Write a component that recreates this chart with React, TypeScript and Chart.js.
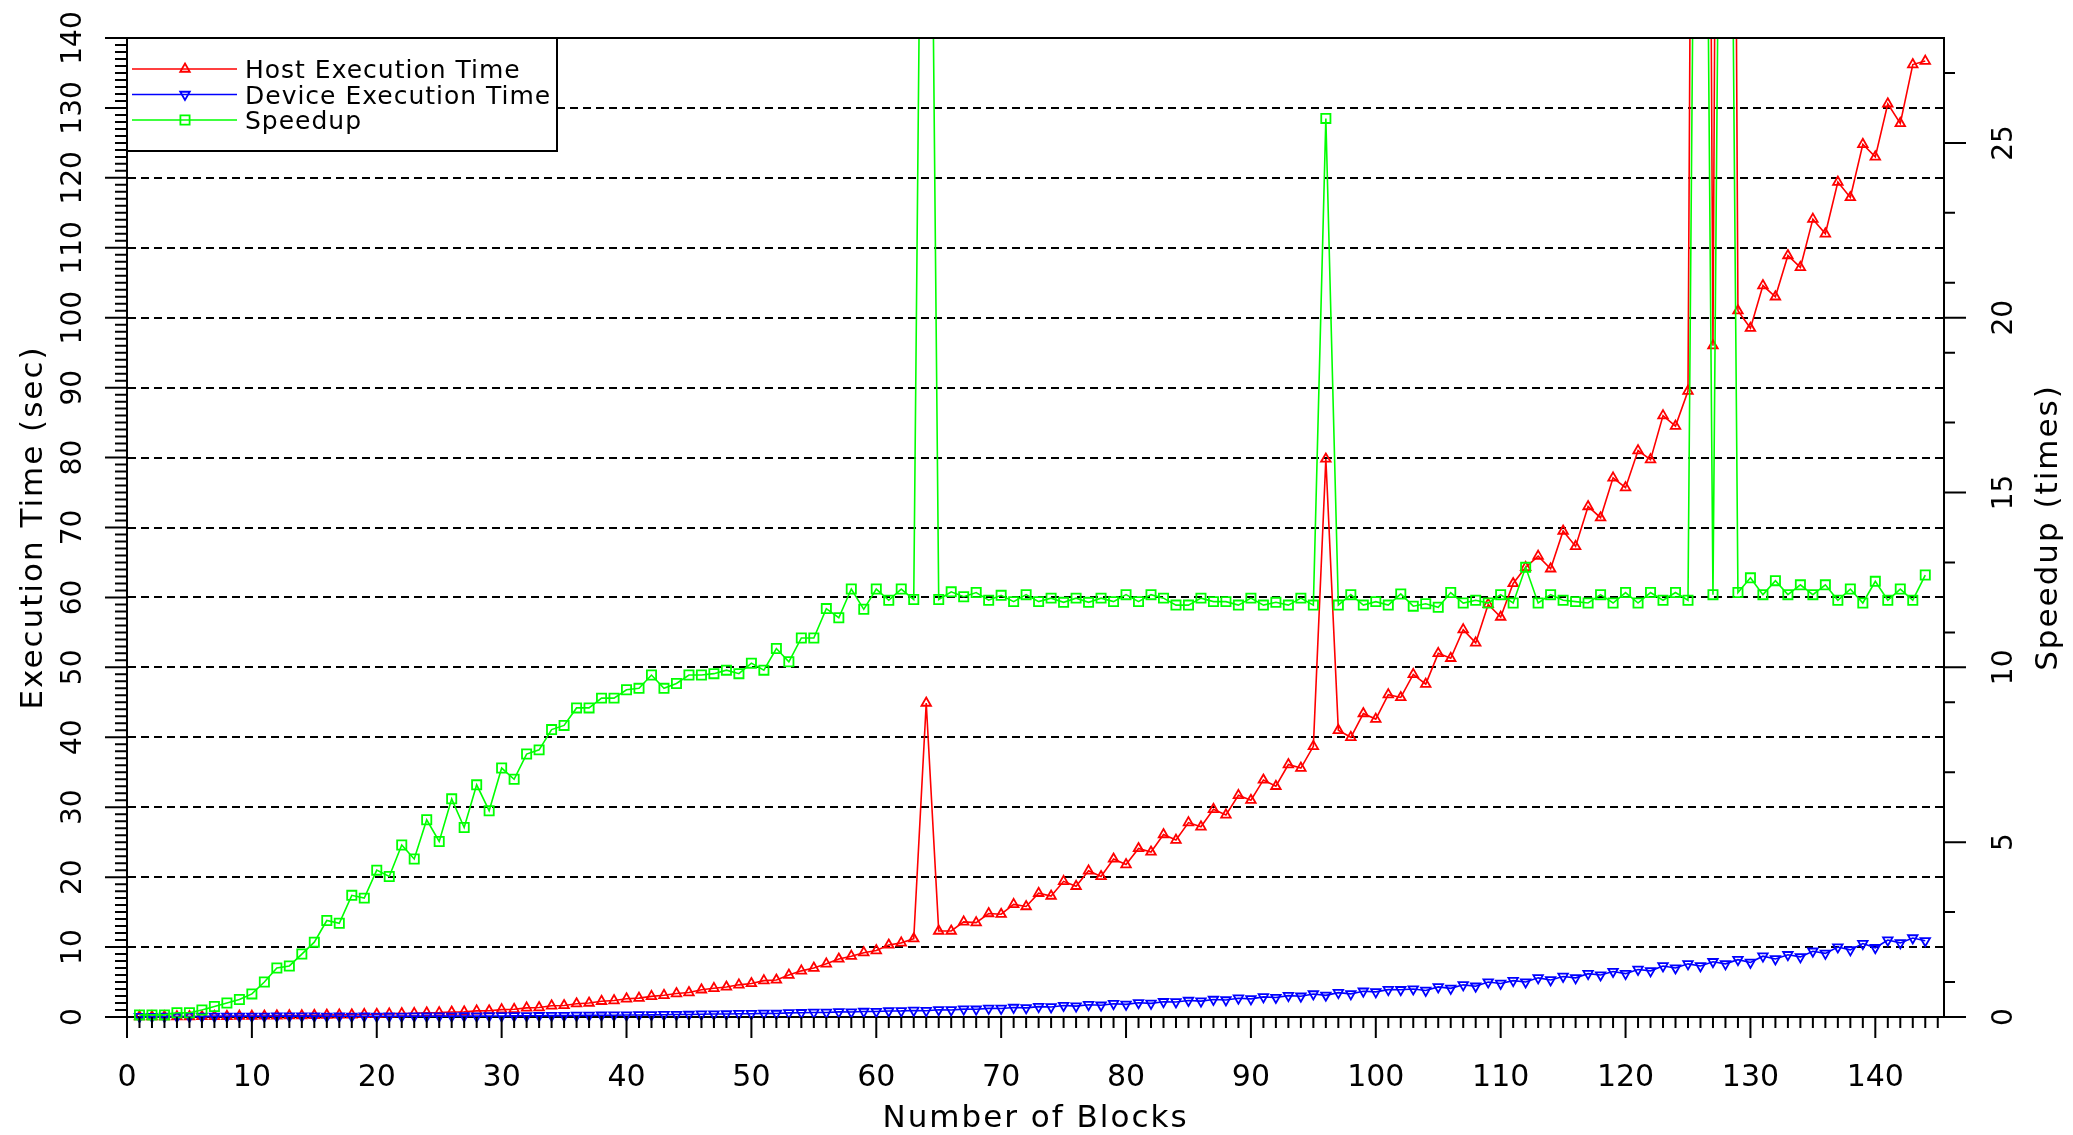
import React, { useEffect, useRef } from 'react';
import { Chart, registerables } from 'chart.js';

Chart.register(...registerables);

// ---------------- data ----------------
const BLOCKS = [
  1, 2, 3, 4, 5, 6, 7, 8, 9, 10, 11, 12, 13, 14, 15, 16, 17, 18, 19, 20,
  21, 22, 23, 24, 25, 26, 27, 28, 29, 30, 31, 32, 33, 34, 35, 36, 37, 38, 39, 40,
  41, 42, 43, 44, 45, 46, 47, 48, 49, 50, 51, 52, 53, 54, 55, 56, 57, 58, 59, 60,
  61, 62, 63, 64, 65, 66, 67, 68, 69, 70, 71, 72, 73, 74, 75, 76, 77, 78, 79, 80,
  81, 82, 83, 84, 85, 86, 87, 88, 89, 90, 91, 92, 93, 94, 95, 96, 97, 98, 99, 100,
  101, 102, 103, 104, 105, 106, 107, 108, 109, 110, 111, 112, 113, 114, 115, 116, 117, 118, 119, 120,
  121, 122, 123, 124, 125, 126, 127, 128, 129, 130, 131, 132, 133, 134, 135, 136, 137, 138, 139, 140,
  141, 142, 143, 144,
];

const HOST_TIME = [
  0.05, 0.05, 0.05, 0.06, 0.07, 0.08, 0.1, 0.1, 0.12, 0.13,
  0.15, 0.17, 0.2, 0.2, 0.25, 0.28, 0.3, 0.32, 0.38, 0.4,
  0.45, 0.5, 0.52, 0.6, 0.62, 0.72, 0.75, 0.88, 0.9, 1.05,
  1.1, 1.3, 1.35, 1.6, 1.65, 1.9, 2.0, 2.25, 2.35, 2.6,
  2.7, 2.95, 3.1, 3.35, 3.5, 3.9, 4.1, 4.3, 4.6, 4.8,
  5.2, 5.3, 6.0, 6.6, 7.0, 7.6, 8.3, 8.7, 9.2, 9.5,
  10.3, 10.6, 11.2, 44.9, 12.3, 12.3, 13.6, 13.5, 14.8, 14.7,
  16.1, 15.8, 17.7, 17.3, 19.4, 18.7, 20.9, 20.1, 22.6, 21.8,
  24.1, 23.6, 26.1, 25.3, 27.8, 27.2, 29.7, 28.9, 31.7, 31.0,
  33.9, 33.0, 36.1, 35.6, 38.7, 79.8, 41.0, 40.0, 43.4, 42.6,
  46.1, 45.7, 49.0, 47.6, 52.0, 51.3, 55.4, 53.5, 59.0, 57.2,
  62.0, 64.3, 65.9, 64.1, 69.5, 67.3, 73.0, 71.4, 77.1, 75.7,
  81.0, 79.7, 86.0, 84.5, 89.5, 420, 96.0, 430, 101.0, 98.5,
  104.6, 103.0, 108.9, 107.2, 114.1, 112.0, 119.4, 117.2, 124.8, 123.0,
  130.6, 127.8, 136.2, 136.7,
];

const DEVICE_TIME = [
  0.05, 0.06, 0.07, 0.07, 0.08, 0.08, 0.09, 0.09, 0.1, 0.1,
  0.1, 0.11, 0.12, 0.12, 0.12, 0.1, 0.11, 0.1, 0.11, 0.1,
  0.11, 0.1, 0.12, 0.11, 0.12, 0.12, 0.14, 0.13, 0.15, 0.15,
  0.16, 0.17, 0.18, 0.19, 0.2, 0.22, 0.23, 0.25, 0.26, 0.28,
  0.29, 0.3, 0.33, 0.35, 0.36, 0.4, 0.42, 0.43, 0.47, 0.47,
  0.52, 0.5, 0.59, 0.61, 0.65, 0.65, 0.73, 0.71, 0.79, 0.78,
  0.86, 0.87, 0.94, 0.9, 1.03, 1.01, 1.13, 1.11, 1.24, 1.22,
  1.36, 1.31, 1.49, 1.44, 1.64, 1.56, 1.76, 1.68, 1.9, 1.8,
  2.03, 1.95, 2.18, 2.15, 2.36, 2.27, 2.5, 2.43, 2.69, 2.59,
  2.88, 2.78, 3.06, 2.97, 3.29, 3.1, 3.48, 3.31, 3.68, 3.59,
  3.91, 3.9, 4.0, 3.8, 4.3, 4.1, 4.6, 4.4, 5.0, 4.8,
  5.2, 5.0, 5.6, 5.3, 5.8, 5.6, 6.2, 6.0, 6.5, 6.2,
  6.8, 6.6, 7.3, 7.0, 7.6, 7.3, 7.9, 7.6, 8.2, 7.8,
  8.7, 8.3, 8.9, 8.6, 9.4, 9.1, 10.0, 9.6, 10.5, 9.9,
  11.0, 10.6, 11.3, 10.9,
];

const SPEEDUP = [
  0.06, 0.06, 0.06, 0.12, 0.12, 0.2, 0.3, 0.4, 0.5, 0.66,
  1.0, 1.4, 1.46, 1.8, 2.14, 2.76, 2.68, 3.48, 3.4, 4.2,
  4.02, 4.92, 4.52, 5.64, 5.02, 6.24, 5.42, 6.64, 5.9, 7.12,
  6.8, 7.52, 7.64, 8.22, 8.34, 8.84, 8.84, 9.12, 9.12, 9.36,
  9.4, 9.78, 9.4, 9.54, 9.78, 9.78, 9.82, 9.92, 9.82, 10.12,
  9.92, 10.54, 10.16, 10.84, 10.84, 11.68, 11.42, 12.24, 11.66, 12.24,
  11.92, 12.24, 11.94, 50.0, 11.94, 12.16, 12.02, 12.14, 11.92, 12.06,
  11.88, 12.08, 11.88, 11.98, 11.86, 11.98, 11.86, 11.98, 11.88, 12.08,
  11.88, 12.08, 11.98, 11.78, 11.78, 11.98, 11.88, 11.88, 11.78, 11.98,
  11.78, 11.86, 11.78, 11.98, 11.78, 25.7, 11.78, 12.08, 11.78, 11.88,
  11.78, 12.1, 11.75, 11.82, 11.72, 12.14, 11.84, 11.92, 11.84, 12.08,
  11.84, 12.86, 11.84, 12.08, 11.92, 11.88, 11.84, 12.08, 11.84, 12.14,
  11.84, 12.14, 11.92, 12.14, 11.92, 56.0, 12.08, 55.0, 12.14, 12.56,
  12.08, 12.48, 12.08, 12.36, 12.08, 12.36, 11.92, 12.24, 11.84, 12.46,
  11.92, 12.24, 11.92, 12.64,
];

const X_TICKS = [0, 10, 20, 30, 40, 50, 60, 70, 80, 90, 100, 110, 120, 130, 140];
const Y_TICKS = [0, 10, 20, 30, 40, 50, 60, 70, 80, 90, 100, 110, 120, 130, 140];
const Y1_TICKS = [0, 5, 10, 15, 20, 25];

const SERIES_LABELS = ['Host Execution Time', 'Device Execution Time', 'Speedup'];
const SERIES_COLORS = ['#ff0000', '#0000ff', '#00ff00'];
const X_TITLE = 'Number of Blocks';
const Y_TITLE = 'Execution Time (sec)';
const Y1_TITLE = 'Speedup (times)';

const FONT = "'DejaVu Sans', sans-serif";

function drawMarker(ctx: CanvasRenderingContext2D, style: string, rot: number, x: number, y: number, r: number) {
  ctx.beginPath();
  if (style === 'rect') {
    const h = Math.SQRT1_2 * r;
    ctx.rect(x - h, y - h, 2 * h, 2 * h);
  } else {
    let a = (rot * Math.PI) / 180;
    ctx.moveTo(x + Math.sin(a) * r, y - Math.cos(a) * r);
    a += (2 * Math.PI) / 3;
    ctx.lineTo(x + Math.sin(a) * r, y - Math.cos(a) * r);
    a += (2 * Math.PI) / 3;
    ctx.lineTo(x + Math.sin(a) * r, y - Math.cos(a) * r);
    ctx.closePath();
  }
  ctx.stroke();
}

function noPad(s: any) {
  s.paddingTop = 0;
  s.paddingBottom = 0;
  s.paddingLeft = 0;
  s.paddingRight = 0;
}

export default function App() {
  const ref = useRef<HTMLCanvasElement>(null);

  useEffect(() => {
    document.body.style.margin = '0';
    const canvas = ref.current;
    if (!canvas) return;

    const framePlugin = {
      id: 'frameTicksTitles',
      afterDraw(chart: any) {
        const ctx: CanvasRenderingContext2D = chart.ctx;
        const a = chart.chartArea;
        const xs = chart.scales.x;
        const ys = chart.scales.y;
        const y1s = chart.scales.y1;
        ctx.save();
        ctx.strokeStyle = '#000';
        ctx.lineWidth = 2;
        ctx.beginPath();
        ctx.moveTo(a.left, a.top);
        ctx.lineTo(a.right, a.top);
        for (let v = 0; v <= xs.max; v += 1) {
          const px = xs.getPixelForValue(v);
          const len = v % 10 === 0 ? 21 : 11;
          ctx.moveTo(px, a.bottom);
          ctx.lineTo(px, a.bottom + len);
        }
        for (let v = 0; v <= ys.max; v += 1) {
          const py = ys.getPixelForValue(v);
          const len = v % 10 === 0 ? 22 : 12;
          ctx.moveTo(a.left, py);
          ctx.lineTo(a.left - len, py);
        }
        for (let v = 0; v <= y1s.max; v += 1) {
          const major = v % 5 === 0;
          if (!major && v % 2 === 0) continue;
          const py = y1s.getPixelForValue(v);
          const len = major ? 22 : 11;
          ctx.moveTo(a.right, py);
          ctx.lineTo(a.right + len, py);
        }
        ctx.stroke();

        // axis titles
        ctx.fillStyle = '#000';
        ctx.font = `31px ${FONT}`;
        (ctx as any).letterSpacing = '2px';
        ctx.textAlign = 'center';
        ctx.textBaseline = 'alphabetic';
        ctx.fillText(X_TITLE, (a.left + a.right) / 2, 1127);
        const midY = (a.top + a.bottom) / 2;
        ctx.save();
        ctx.translate(42, midY);
        ctx.rotate(-Math.PI / 2);
        ctx.fillText(Y_TITLE, 0, 0);
        ctx.restore();
        ctx.save();
        ctx.translate(2057, midY);
        ctx.rotate(-Math.PI / 2);
        ctx.fillText(Y1_TITLE, 0, 0);
        ctx.restore();
        (ctx as any).letterSpacing = '0px';
        ctx.restore();
      },
      afterDatasetsDraw(chart: any) {
        const ctx: CanvasRenderingContext2D = chart.ctx;
        const a = chart.chartArea;
        ctx.save();
        ctx.fillStyle = '#fff';
        ctx.fillRect(a.left, a.top, 430, 113);
        ctx.strokeStyle = '#000';
        ctx.lineWidth = 2;
        ctx.strokeRect(a.left, a.top, 430, 113);
        chart.data.datasets.forEach((ds: any, i: number) => {
          const ry = a.top + 31 + i * 25.5;
          ctx.strokeStyle = ds.borderColor;
          ctx.lineWidth = 1.5;
          ctx.beginPath();
          ctx.moveTo(a.left + 5, ry);
          ctx.lineTo(a.left + 110, ry);
          ctx.stroke();
          ctx.lineWidth = ds.pointBorderWidth;
          drawMarker(ctx, ds.pointStyle, ds.pointRotation || 0, a.left + 58, ry, ds.pointRadius);
          ctx.fillStyle = '#000';
          ctx.font = `25px ${FONT}`;
          (ctx as any).letterSpacing = '1px';
          ctx.textAlign = 'left';
          ctx.textBaseline = 'alphabetic';
          ctx.fillText(ds.label, a.left + 118, ry + 9);
          (ctx as any).letterSpacing = '0px';
        });
        ctx.restore();
      },
    };

    const mk = (vals: number[]) => BLOCKS.map((b, i) => ({ x: b, y: vals[i] }));
    const common = {
      borderWidth: 1.6,
      pointBorderWidth: 1.8,
      pointBackgroundColor: 'rgba(0,0,0,0)',
      tension: 0,
      clip: { left: 10, right: 10, top: 0, bottom: 10 },
    };

    const chart = new Chart(canvas, {
      type: 'line',
      data: {
        datasets: [
          {
            ...common,
            label: SERIES_LABELS[0],
            data: mk(HOST_TIME),
            yAxisID: 'y',
            borderColor: SERIES_COLORS[0],
            pointBorderColor: SERIES_COLORS[0],
            pointStyle: 'triangle',
            pointRadius: 5.5,
            order: 2,
          },
          {
            ...common,
            label: SERIES_LABELS[1],
            data: mk(DEVICE_TIME),
            yAxisID: 'y',
            borderColor: SERIES_COLORS[1],
            pointBorderColor: SERIES_COLORS[1],
            pointStyle: 'triangle',
            pointRotation: 180,
            pointRadius: 5.5,
            order: 1,
          },
          {
            ...common,
            label: SERIES_LABELS[2],
            data: mk(SPEEDUP),
            yAxisID: 'y1',
            borderColor: SERIES_COLORS[2],
            pointBorderColor: SERIES_COLORS[2],
            pointStyle: 'rect',
            pointRadius: 6.5,
            order: 0,
          },
        ],
      } as any,
      options: {
        responsive: false,
        animation: false,
        devicePixelRatio: 1,
        events: [],
        layout: { padding: { top: 38, left: 0, right: 0, bottom: 0 } },
        plugins: { legend: { display: false }, tooltip: { enabled: false } },
        scales: {
          x: {
            type: 'linear',
            position: 'bottom',
            min: 0,
            max: 145.5,
            afterBuildTicks: (s: any) => { s.ticks = X_TICKS.map((v) => ({ value: v })); },
            afterFit: (s: any) => { s.height = 118; noPad(s); },
            grid: { display: false, drawTicks: false },
            border: { display: true, color: '#000', width: 2 },
            ticks: {
              autoSkip: false, minRotation: 0, maxRotation: 0, padding: 43, color: '#000',
              font: { family: FONT, size: 30 },
            },
          },
          y: {
            type: 'linear',
            position: 'left',
            min: 0,
            max: 140,
            afterBuildTicks: (s: any) => { s.ticks = Y_TICKS.map((v) => ({ value: v })); },
            afterFit: (s: any) => { s.width = 127; noPad(s); },
            grid: {
              drawTicks: false,
              lineWidth: 2,
              color: (c: any) => (c.tick && (c.tick.value === 0 || c.tick.value === 140) ? 'rgba(0,0,0,0)' : '#000'),
            },
            border: { display: true, color: '#000', width: 2, dash: [8, 5] },
            ticks: {
              autoSkip: false, minRotation: 90, maxRotation: 90, crossAlign: 'center', padding: 27, color: '#000',
              font: { family: FONT, size: 28 },
            },
          },
          y1: {
            type: 'linear',
            position: 'right',
            min: 0,
            max: 28,
            afterBuildTicks: (s: any) => { s.ticks = Y1_TICKS.map((v) => ({ value: v })); },
            afterFit: (s: any) => { s.width = 129; noPad(s); },
            grid: { display: false, drawTicks: false },
            border: { display: true, color: '#000', width: 2 },
            ticks: {
              autoSkip: false, minRotation: 90, maxRotation: 90, crossAlign: 'center', padding: 43, color: '#000',
              font: { family: FONT, size: 28 },
            },
          },
        },
      } as any,
      plugins: [framePlugin],
    });

    return () => chart.destroy();
  }, []);

  return (
    <div style={{ width: 2073, height: 1135, position: 'relative', background: '#fff' }}>
      <canvas ref={ref} width={2073} height={1135} style={{ display: 'block' }} />
    </div>
  );
}
